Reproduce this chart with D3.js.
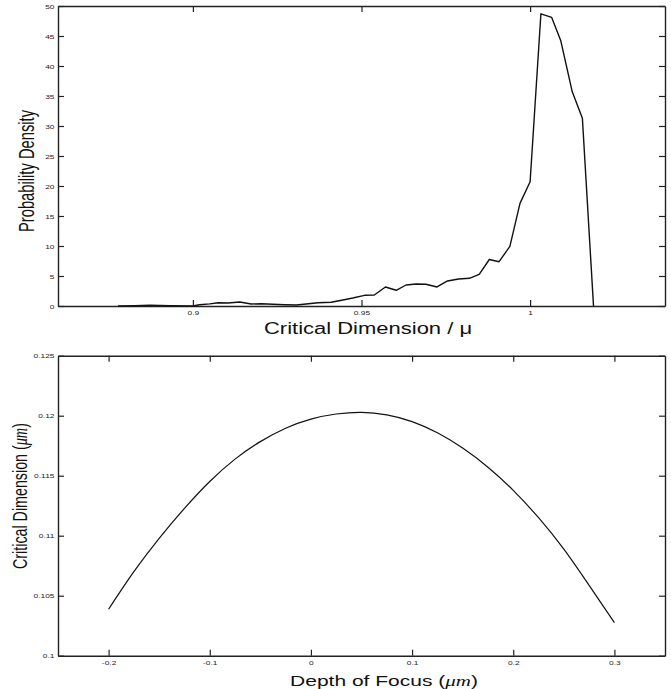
<!DOCTYPE html>
<html>
<head>
<meta charset="utf-8">
<script src="https://cdn.jsdelivr.net/npm/d3@7"></script>
<style>
  html, body { margin: 0; padding: 0; background: #fff; }
  svg { display: block; }
</style>
</head>
<body>
<div id="chart"></div>
<script>
// ---------- Top chart data: probability density of critical dimension ----------
const cdValues = [0.8778, 0.8828, 0.8872, 0.8932, 0.8999, 0.9020, 0.9050, 0.9075, 0.9104, 0.9139,
  0.9173, 0.9203, 0.9237, 0.9272, 0.9307, 0.9336, 0.9371, 0.9410, 0.9445, 0.9474,
  0.9509, 0.9538, 0.9571, 0.9603, 0.9632, 0.9662, 0.9691, 0.9724, 0.9755, 0.9788,
  0.9820, 0.9849, 0.9879, 0.9908, 0.9940, 0.9970, 1.0000, 1.0032, 1.0064, 1.0091,
  1.0125, 1.0155, 1.0188];
const densityValues = [0.0, 0.05, 0.12, 0.05, 0.0, 0.2, 0.35, 0.55, 0.5, 0.67,
  0.33, 0.38, 0.28, 0.22, 0.17, 0.33, 0.55, 0.62, 1.0, 1.33,
  1.78, 1.83, 3.17, 2.62, 3.5, 3.67, 3.62, 3.17, 4.17, 4.5,
  4.62, 5.28, 7.75, 7.38, 9.95, 17.1, 20.7, 48.7, 48.1, 44.2,
  35.7, 31.3, 0.0];
const topXTicks = [0.9, 0.95, 1];
const topXTickLabels = ["0.9", "0.95", "1"];
const topYTicks = [0, 5, 10, 15, 20, 25, 30, 35, 40, 45, 50];
const topYTickLabels = ["0", "5", "10", "15", "20", "25", "30", "35", "40", "45", "50"];

// ---------- Bottom chart data: critical dimension vs depth of focus ----------
const focusValues = [-0.2, -0.175, -0.15, -0.125, -0.1, -0.075, -0.05, -0.025, 0, 0.025,
  0.05, 0.075, 0.1, 0.125, 0.15, 0.175, 0.2, 0.225, 0.25, 0.275, 0.3];
const cdFocusValues = [0.10387, 0.10700, 0.10978, 0.11228, 0.11452, 0.11638, 0.11784, 0.11896, 0.11972, 0.12014,
  0.12028, 0.12007, 0.11951, 0.11858, 0.11731, 0.11571, 0.11378, 0.11150, 0.10888, 0.10586, 0.10276];
const botXTicks = [-0.2, -0.1, 0, 0.1, 0.2, 0.3];
const botXTickLabels = ["-0.2", "-0.1", "0", "0.1", "0.2", "0.3"];
const botYTicks = [0.1, 0.105, 0.11, 0.115, 0.12, 0.125];
const botYTickLabels = ["0.1", "0.105", "0.11", "0.115", "0.12", "0.125"];

// ---------- Drawing ----------
const W = 671, H = 689;
const svg = d3.select("#chart").append("svg").attr("width", W).attr("height", H);
const FONT = "'Liberation Sans', Arial, Helvetica, sans-serif";
const AXIS_COLOR = "#222";

function drawPanel(cfg) {
  const { x, y, xTicks, xLabels, yTicks, yLabels } = cfg;
  const [x0, x1] = x.range();
  const [yb, yt] = y.range();
  const g = svg.append("g");

  // inward ticks on all four sides
  const bottom = g.append("g").attr("transform", `translate(0,${yb})`)
    .call(d3.axisBottom(x).tickValues(xTicks).tickSize(-6).tickSizeOuter(0)
      .tickFormat((d, i) => xLabels[i]));
  const left = g.append("g").attr("transform", `translate(${x0},0)`)
    .call(d3.axisLeft(y).tickValues(yTicks).tickSize(-6).tickSizeOuter(0)
      .tickFormat((d, i) => yLabels[i]));
  const top = g.append("g").attr("transform", `translate(0,${yt})`)
    .call(d3.axisTop(x).tickValues(xTicks).tickSize(-6).tickSizeOuter(0).tickFormat(""));
  const right = g.append("g").attr("transform", `translate(${x1},0)`)
    .call(d3.axisRight(y).tickValues(yTicks).tickSize(-6).tickSizeOuter(0).tickFormat(""));

  [bottom, left, top, right].forEach(a => {
    a.attr("font-family", FONT).attr("font-size", 8.4).attr("fill", null);
    a.selectAll("path.domain").attr("stroke", AXIS_COLOR).attr("stroke-width", 1.4);
    a.selectAll(".tick line").attr("stroke", AXIS_COLOR).attr("stroke-width", 1.2);
    a.selectAll(".tick text").attr("fill", "#222");
  });

  bottom.selectAll(".tick text")
    .attr("y", null).attr("dy", null)
    .attr("text-anchor", "middle")
    .attr("transform", "translate(0,8.8) scale(1,0.7)");
  left.selectAll(".tick text")
    .attr("x", -3.5).attr("dy", null).attr("y", null)
    .attr("text-anchor", "end")
    .attr("transform", "translate(0,2.1) scale(1,0.7)");

  return g;
}

// ---- Top panel ----
const xT = d3.scaleLinear().domain([0.86, 1.04]).range([58, 665]);
const yT = d3.scaleLinear().domain([0, 50]).range([306, 6]);
drawPanel({ x: xT, y: yT, xTicks: topXTicks, xLabels: topXTickLabels, yTicks: topYTicks, yLabels: topYTickLabels });

const topData = cdValues.map((v, i) => [v, densityValues[i]]);
svg.append("path")
  .datum(topData)
  .attr("fill", "none")
  .attr("stroke", "#111")
  .attr("stroke-width", 1.4)
  .attr("stroke-linejoin", "round")
  .attr("d", d3.line().x(d => xT(d[0])).y(d => yT(d[1])));

svg.append("text")
  .attr("transform", "translate(368,334) scale(1,0.72)")
  .attr("text-anchor", "middle")
  .attr("font-family", FONT)
  .attr("font-size", 22)
  .attr("fill", "#111")
  .text("Critical Dimension / \u03bc");

svg.append("text")
  .attr("transform", "translate(33.5,171) rotate(-90) scale(0.67,1)")
  .attr("text-anchor", "middle")
  .attr("font-family", FONT)
  .attr("font-size", 22)
  .attr("fill", "#111")
  .text("Probability Density");

// ---- Bottom panel ----
const xB = d3.scaleLinear().domain([-0.25, 0.35]).range([58, 665]);
const yB = d3.scaleLinear().domain([0.1, 0.125]).range([655.7, 355.7]);
drawPanel({ x: xB, y: yB, xTicks: botXTicks, xLabels: botXTickLabels, yTicks: botYTicks, yLabels: botYTickLabels });

const botData = focusValues.map((v, i) => [v, cdFocusValues[i]]);
svg.append("path")
  .datum(botData)
  .attr("fill", "none")
  .attr("stroke", "#111")
  .attr("stroke-width", 1.2)
  .attr("d", d3.line().curve(d3.curveNatural).x(d => xB(d[0])).y(d => yB(d[1])));

const xLab = svg.append("text")
  .attr("transform", "translate(384,686) scale(1,0.72)")
  .attr("text-anchor", "middle")
  .attr("font-family", FONT)
  .attr("font-size", 21)
  .attr("fill", "#111");
xLab.append("tspan").text("Depth of Focus (");
xLab.append("tspan").attr("font-family", "'Liberation Serif', 'DejaVu Serif', serif").attr("font-style", "italic").text("\u03bcm");
xLab.append("tspan").text(")");

const yLab = svg.append("text")
  .attr("transform", "translate(27,496) rotate(-90) scale(0.68,1)")
  .attr("text-anchor", "middle")
  .attr("font-family", FONT)
  .attr("font-size", 21)
  .attr("fill", "#111");
yLab.append("tspan").text("Critical Dimension (");
yLab.append("tspan").attr("font-family", "'Liberation Serif', 'DejaVu Serif', serif").attr("font-style", "italic").text("\u03bcm");
yLab.append("tspan").text(")");
</script>
</body>
</html>
